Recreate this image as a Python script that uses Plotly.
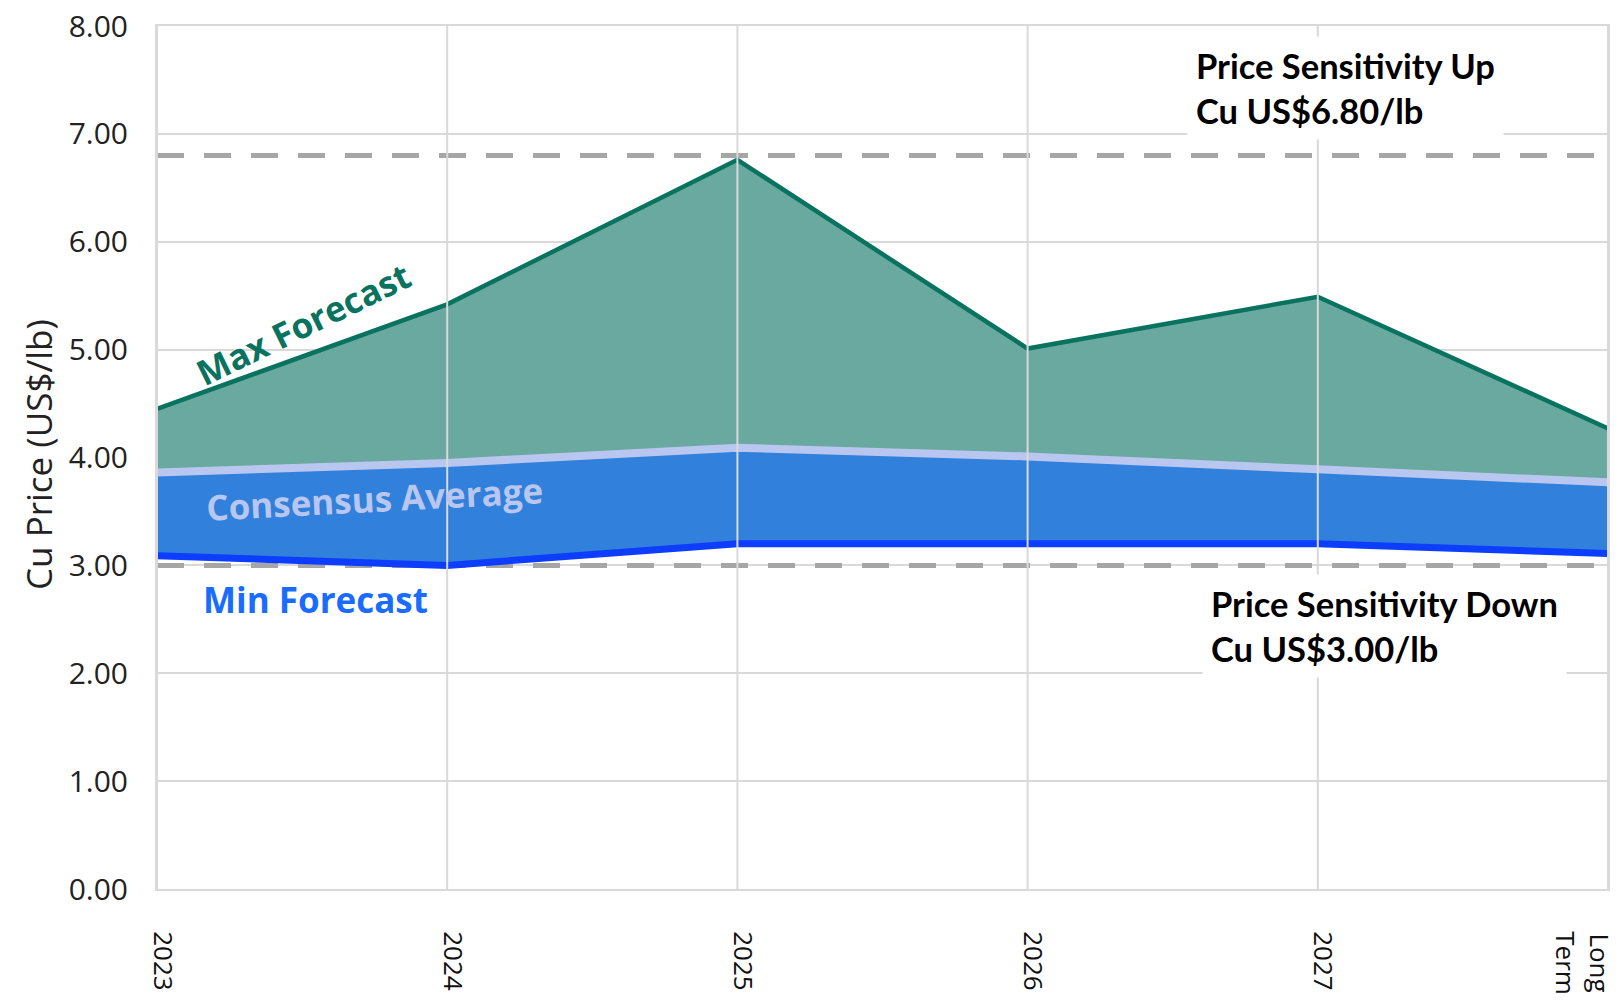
import plotly.graph_objects as go

categories = ["2023", "2024", "2025", "2026", "2027", "Long<br>Term"]
max_forecast = [4.45, 5.42, 6.76, 5.01, 5.49, 4.27]
consensus_avg = [3.86, 3.95, 4.09, 4.01, 3.89, 3.77]
min_forecast = [3.09, 3.00, 3.20, 3.20, 3.20, 3.11]
sens_up = 6.80
sens_down = 3.00
y_ticks = [0, 1, 2, 3, 4, 5, 6, 7, 8]

TEAL_FILL = "#6aa9a0"
TEAL_LINE = "#0a7360"
BLUE_FILL = "#3080dc"
LAV_LINE = "#b8c6f0"
MIN_LINE = "#0d3dff"
GRID = "#d9d9d9"

fig = go.Figure()

# filled bands (no lines)
fig.add_trace(go.Scatter(x=categories, y=min_forecast, mode="lines",
                         line=dict(width=0), showlegend=False, hoverinfo="skip"))
fig.add_trace(go.Scatter(x=categories, y=consensus_avg, mode="lines", fill="tonexty",
                         fillcolor=BLUE_FILL, line=dict(width=0), showlegend=False))
fig.add_trace(go.Scatter(x=categories, y=max_forecast, mode="lines", fill="tonexty",
                         fillcolor=TEAL_FILL, line=dict(width=0), showlegend=False))

# sensitivity dashed lines
fig.add_trace(go.Scatter(x=categories, y=[sens_up] * len(categories), mode="lines",
                         line=dict(color="#a6a6a6", width=5, dash="27px,20px"), showlegend=False))
fig.add_trace(go.Scatter(x=categories, y=[sens_down] * len(categories), mode="lines",
                         line=dict(color="#a6a6a6", width=5, dash="27px,20px"), showlegend=False))

# outlines
fig.add_trace(go.Scatter(x=categories, y=max_forecast, mode="lines",
                         line=dict(color=TEAL_LINE, width=4.5), showlegend=False))
fig.add_trace(go.Scatter(x=categories, y=consensus_avg, mode="lines",
                         line=dict(color=LAV_LINE, width=8), showlegend=False))
fig.add_trace(go.Scatter(x=categories, y=min_forecast, mode="lines",
                         line=dict(color=MIN_LINE, width=7), showlegend=False))

# vertical gridlines drawn above the fills (at category index positions)
for i, _ in enumerate(categories):
    fig.add_shape(type="line", xref="x", yref="paper", x0=i, x1=i, y0=0, y1=1,
                  line=dict(color=GRID, width=2), layer="above")

ann_font = "Open Sans"
fig.add_annotation(xref="paper", yref="paper", x=0.101, y=0.655, xanchor="center", yanchor="middle",
                   text="<b>Max Forecast</b>", showarrow=False, textangle=-26,
                   font=dict(family=ann_font, size=35, color=TEAL_LINE))
fig.add_annotation(xref="paper", yref="paper", x=0.150, y=0.452, xanchor="center", yanchor="middle",
                   text="<b>Consensus Average</b>", showarrow=False, textangle=-3,
                   font=dict(family=ann_font, size=35, color=LAV_LINE))
fig.add_annotation(xref="paper", yref="paper", x=0.109, y=0.335, xanchor="center", yanchor="middle",
                   text="<b>Min Forecast</b>", showarrow=False,
                   font=dict(family=ann_font, size=35, color="#1a6cff"))

fig.add_annotation(xref="paper", yref="paper", x=0.710, y=0.928, xanchor="left", yanchor="middle",
                   align="left", text="<b>Price Sensitivity Up<br>Cu US$6.80/lb</b>", showarrow=False,
                   bgcolor="white", borderpad=8,
                   font=dict(family="Lato", size=34.5, color="black"))
fig.add_annotation(xref="paper", yref="paper", x=0.720, y=0.305, xanchor="left", yanchor="middle",
                   align="left", text="<b>Price Sensitivity Down<br>Cu US$3.00/lb</b>", showarrow=False,
                   bgcolor="white", borderpad=8,
                   font=dict(family="Lato", size=34.5, color="black"))

# y axis title
fig.add_annotation(xref="paper", yref="paper", x=-0.0813, y=0.503, xanchor="center", yanchor="middle",
                   text="Cu Price (US$/lb)", showarrow=False, textangle=-90,
                   font=dict(family="Open Sans", size=35, color="#222222"))

# last category label placed as annotation so it stays inside the page
fig.add_annotation(xref="paper", yref="paper", x=0.983, y=-0.047, xanchor="center", yanchor="top",
                   text=categories[-1], showarrow=False, textangle=90,
                   font=dict(family="Open Sans", size=26, color="#111111"))

fig.update_layout(
    width=1621, height=1001,
    margin=dict(l=157, r=13, t=26, b=112, autoexpand=False),
    paper_bgcolor="white", plot_bgcolor="white",
    font=dict(family="Open Sans", color="#222222"),
)
fig.update_xaxes(type="category", range=[0, len(categories) - 1], showgrid=False,
                 tickmode="array", tickvals=list(range(len(categories) - 1)),
                 ticktext=categories[:-1],
                 tickangle=90, tickfont=dict(size=26, color="#111111"),
                 ticklabelstandoff=35, ticklabelshift=5, zeroline=False, automargin=False,
                 ticklabeloverflow="allow",
                 showline=True, linecolor=GRID, linewidth=2, mirror=True)
fig.update_yaxes(range=[0, 8], tickvals=y_ticks, tickformat=".2f",
                 showgrid=True, gridcolor=GRID, gridwidth=2, zeroline=False,
                 automargin=False, ticklabeloverflow="allow",
                 tickfont=dict(size=30, color="#222222"), ticklabelstandoff=21,
                 showline=True, linecolor=GRID, linewidth=2, mirror=True)

fig.write_html("out.html", config={"displayModeBar": False},
               post_script="document.body.style.margin='0';")
